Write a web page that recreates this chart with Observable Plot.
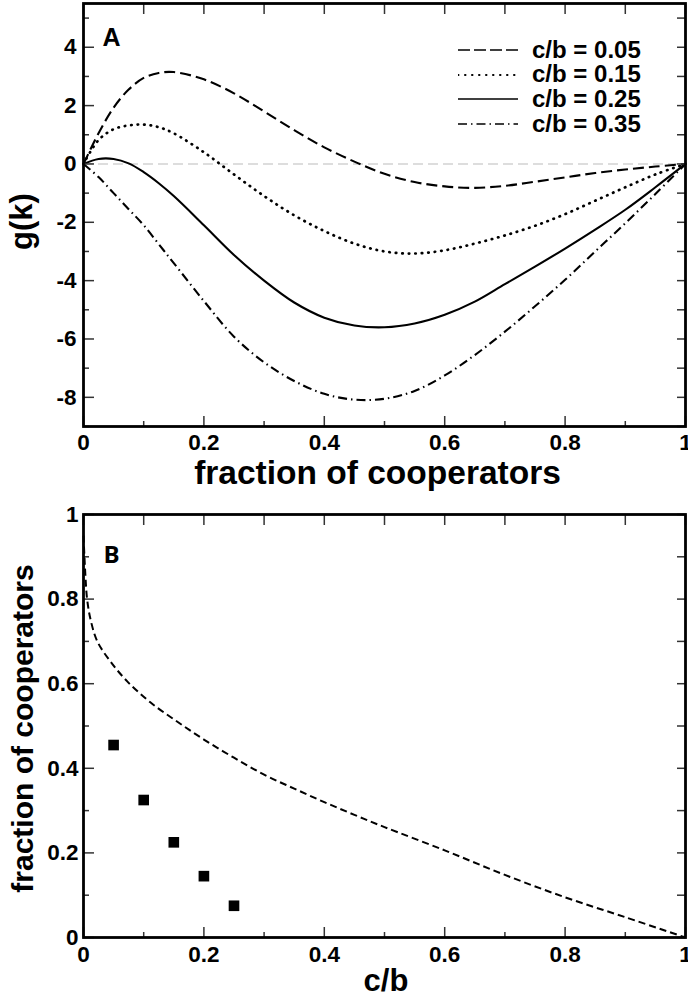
<!DOCTYPE html>
<html><head><meta charset="utf-8">
<script src="https://cdn.jsdelivr.net/npm/d3@7"></script>
<script src="https://cdn.jsdelivr.net/npm/@observablehq/plot@0.6"></script>
<style>
html,body{margin:0;padding:0;background:#fff;}
#wrap{position:relative;width:688px;height:996px;overflow:hidden;}
#wrap svg{display:block;}
.legend{position:absolute;left:458px;top:37.65px;font-family:"Liberation Sans",Arial,Helvetica,sans-serif;font-weight:bold;font-size:24px;color:#000;}
.legend .row{display:flex;align-items:center;height:24.7px;line-height:24.7px;}
.legend svg{margin-right:14px;}
</style></head>
<body><div id="wrap"></div>
<script>
// ---------- Panel A data ----------
const kGrid = [0, 0.025, 0.05, 0.075, 0.1, 0.125, 0.15, 0.2, 0.25, 0.3, 0.35, 0.4, 0.45, 0.5, 0.55, 0.6, 0.65, 0.7, 0.75, 0.8, 0.85, 0.9, 0.95, 1];
const g005 = [0, 1.05, 1.93, 2.55, 2.95, 3.12, 3.15, 2.9, 2.42, 1.8, 1.16, 0.57, 0.08, -0.34, -0.62, -0.77, -0.82, -0.75, -0.61, -0.46, -0.31, -0.19, -0.09, 0];
const g015 = [0, 0.82, 1.19, 1.32, 1.35, 1.26, 1.05, 0.4, -0.36, -1.1, -1.76, -2.3, -2.73, -3.0, -3.07, -2.96, -2.73, -2.45, -2.12, -1.72, -1.26, -0.8, -0.36, 0];
const g025 = [0, 0.17, 0.17, 0.02, -0.28, -0.66, -1.1, -2.1, -3.12, -4.0, -4.75, -5.27, -5.54, -5.6, -5.47, -5.17, -4.72, -4.12, -3.52, -2.9, -2.25, -1.57, -0.8, 0];
const g035 = [0, -0.45, -1.0, -1.55, -2.1, -2.75, -3.4, -4.7, -5.92, -6.8, -7.44, -7.88, -8.08, -8.05, -7.78, -7.25, -6.55, -5.75, -4.88, -3.97, -3.0, -2.03, -1.03, 0];
const seriesLabels = ["c/b = 0.05", "c/b = 0.15", "c/b = 0.25", "c/b = 0.35"];
const xTicksA = [0, 0.2, 0.4, 0.6, 0.8, 1];
const xMinorA = [0.1, 0.3, 0.5, 0.7, 0.9];
const yTicksA = [-8, -6, -4, -2, 0, 2, 4];
const yMinorA = [-9, -7, -5, -3, -1, 1, 3, 5];

// ---------- Panel B data ----------
const cbGrid = [0, 0.003, 0.006, 0.012, 0.023, 0.045, 0.073, 0.111, 0.156, 0.2, 0.25, 0.3, 0.35, 0.4, 0.45, 0.5, 0.6, 0.7, 0.8, 0.9, 1];
const boundary = [0.95, 0.86, 0.8, 0.75, 0.70, 0.652, 0.605, 0.556, 0.51, 0.468, 0.425, 0.385, 0.352, 0.32, 0.29, 0.261, 0.206, 0.148, 0.095, 0.048, 0];
const cbSim = [0.05, 0.1, 0.15, 0.2, 0.25];
const fracSim = [0.455, 0.325, 0.225, 0.145, 0.075];
const xTicksB = [0, 0.2, 0.4, 0.6, 0.8, 1];
const xMinorB = [0.1, 0.3, 0.5, 0.7, 0.9];
const yTicksB = [0, 0.2, 0.4, 0.6, 0.8, 1];
const yMinorB = [0.1, 0.3, 0.5, 0.7, 0.9];

// ---------- styles ----------
const FONT = '"Liberation Sans", Arial, Helvetica, sans-serif';
const lineStyles = [
  {strokeDasharray: "11,5", strokeLinecap: "butt", strokeWidth: 2.1},
  {strokeDasharray: "0.5,6", strokeLinecap: "round", strokeWidth: 2.7},
  {strokeLinecap: "butt", strokeWidth: 2.1},
  {strokeDasharray: "9,4,1.5,4", strokeLinecap: "butt", strokeWidth: 2.1}
];
const fmt = d => String(d);
const tickStroke = {stroke: "#333", strokeWidth: 1.5, label: null, fill: null};

function frameAxes(xT, xM, yT, yM, padX, padY) {
  return [
    Plot.axisX(xT, {anchor: "bottom", tickSize: 0, tickPadding: padX, tickFormat: fmt, label: null, fontSize: 22.5}),
    Plot.axisY(yT, {anchor: "left", tickSize: 0, tickPadding: padY, tickFormat: fmt, label: null, fontSize: 22.5}),
    Plot.axisX(xT, {anchor: "bottom", tickSize: -10, ...tickStroke}),
    Plot.axisX(xM, {anchor: "bottom", tickSize: -5, ...tickStroke}),
    Plot.axisX(xT.concat(xM), {anchor: "top", tickSize: -10, ...tickStroke}),
    Plot.axisY(yT, {anchor: "left", tickSize: -11, ...tickStroke}),
    Plot.axisY(yM, {anchor: "left", tickSize: -6, ...tickStroke}),
    Plot.axisY(yT.concat(yM), {anchor: "right", tickSize: -9, ...tickStroke}),
    Plot.frame({stroke: "#000", strokeWidth: 2.8})
  ];
}

const gSeries = [g005, g015, g025, g035];

const plotA = Plot.plot({
  width: 688, height: 500,
  marginLeft: 83, marginRight: 3, marginTop: 3, marginBottom: 74,
  style: {fontFamily: FONT, fontWeight: "bold", color: "#000", background: "#fff"},
  x: {domain: [0, 1]},
  y: {domain: [-9, 5.5]},
  marks: [
    Plot.ruleY([0], {stroke: "#d2d2d2", strokeWidth: 1.5, strokeDasharray: "10,5"}),
    ...gSeries.map((s, j) => Plot.line(s, {x: kGrid, y: Plot.identity, stroke: "#000", curve: "catmull-rom", ...lineStyles[j]})),
    ...frameAxes(xTicksA, xMinorA, yTicksA, yMinorA, 8, 7),
    Plot.text(["g(k)"], {frameAnchor: "left", rotate: -90, dx: -52, dy: 6.5, textAnchor: "middle", lineAnchor: "bottom", fontSize: 31, fontWeight: "bold"}),
    Plot.text(["fraction of cooperators"], {frameAnchor: "bottom", dx: -7, dy: 57, textAnchor: "middle", lineAnchor: "bottom", fontSize: 33.5, fontWeight: "bold"}),
    Plot.text(["A"], {frameAnchor: "top-left", dx: 19, dy: 42, textAnchor: "start", lineAnchor: "bottom", fontSize: 25, fontWeight: "bold"})
  ]
});

const plotB = Plot.plot({
  width: 688, height: 496,
  marginLeft: 83, marginRight: 3, marginTop: 14, marginBottom: 59,
  style: {fontFamily: FONT, fontWeight: "bold", color: "#000", background: "#fff"},
  x: {domain: [0, 1]},
  y: {domain: [0, 1]},
  marks: [
    Plot.line(boundary, {x: cbGrid, y: Plot.identity, stroke: "#000", strokeWidth: 2, strokeDasharray: "7,4", strokeLinecap: "butt", curve: "catmull-rom"}),
    Plot.dot(fracSim, {x: cbSim, y: Plot.identity, symbol: "square", r: 6, fill: "#000", stroke: null}),
    ...frameAxes(xTicksB, xMinorB, yTicksB, yMinorB, 9, 5),
    Plot.text(["fraction of cooperators"], {frameAnchor: "left", rotate: -90, dx: -51, dy: 2.5, textAnchor: "middle", lineAnchor: "bottom", fontSize: 30, fontWeight: "bold"}),
    Plot.text(["c/b"], {frameAnchor: "bottom", dx: 1.5, dy: 53, textAnchor: "middle", lineAnchor: "bottom", fontSize: 31, fontWeight: "bold"}),
    Plot.text(["B"], {frameAnchor: "top-left", dx: 20, dy: 48, textAnchor: "start", lineAnchor: "bottom", fontSize: 24, fontWeight: "bold", fontFamily: '"Open Sans", sans-serif'})
  ]
});

const wrap = document.getElementById("wrap");
wrap.appendChild(plotA);
wrap.appendChild(plotB);

// legend for panel A (HTML overlay)
const legend = document.createElement("div");
legend.className = "legend";
seriesLabels.forEach((lab, j) => {
  const row = document.createElement("div");
  row.className = "row";
  const st = lineStyles[j];
  const svgNS = "http://www.w3.org/2000/svg";
  const s = document.createElementNS(svgNS, "svg");
  s.setAttribute("width", 60); s.setAttribute("height", 6);
  const ln = document.createElementNS(svgNS, "line");
  ln.setAttribute("x1", 0); ln.setAttribute("x2", 60); ln.setAttribute("y1", 3); ln.setAttribute("y2", 3);
  ln.setAttribute("stroke", "#000");
  ln.setAttribute("stroke-width", j === 1 ? 2 : 1.6);
  ln.setAttribute("stroke-linecap", st.strokeLinecap || "butt");
  if (st.strokeDasharray) ln.setAttribute("stroke-dasharray", j === 0 ? "12,4" : j === 1 ? "0.5,6.5" : st.strokeDasharray);
  s.appendChild(ln);
  row.appendChild(s);
  const t = document.createElement("span");
  t.textContent = lab;
  row.appendChild(t);
  legend.appendChild(row);
});
wrap.appendChild(legend);
</script>
</body></html>
